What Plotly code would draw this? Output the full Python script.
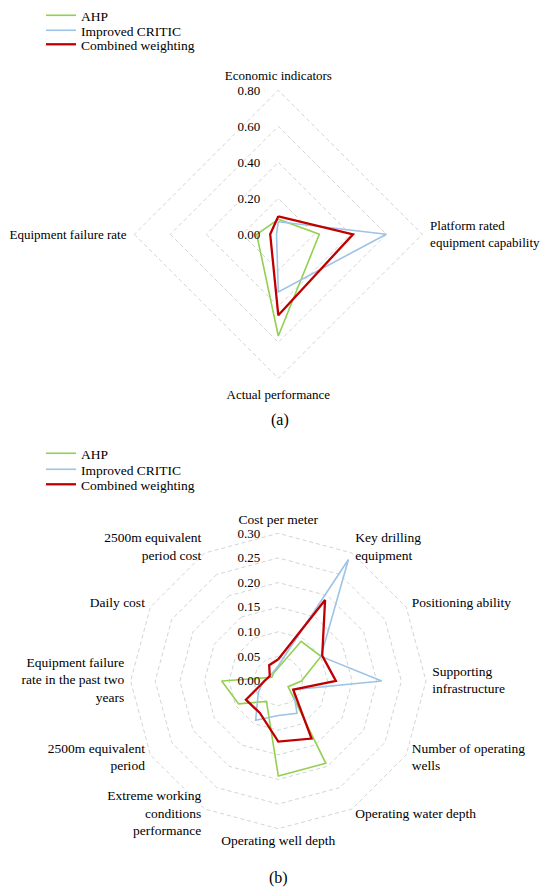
import plotly.graph_objects as go

# (a) first-level indicators
cats_a = ["Economic indicators", "Platform rated<br>equipment capability",
          "Actual performance", "Equipment failure rate"]
ahp_a = [0.083, 0.228, 0.565, 0.12]
critic_a = [0.07, 0.60, 0.32, 0.01]
comb_a = [0.10, 0.415, 0.45, 0.045]

# (b) second-level indicators
cats_b = ["Cost per meter", "Key drilling<br>equipment", "Positioning ability",
          "Supporting<br>infrastructure", "Number of operating<br>wells",
          "Operating water depth", "Operating well depth",
          "Extreme working<br>conditions<br>performance",
          "2500m equivalent<br>period",
          "Equipment failure<br>rate in the past two<br>years",
          "Daily cost", "2500m equivalent<br>period cost"]
ahp_b = [0.027, 0.093, 0.10, 0.047, 0.023, 0.193, 0.193, 0.048, 0.093, 0.115, 0.015, 0.019]
critic_b = [0.031, 0.285, 0.10, 0.21, 0.035, 0.076, 0.07, 0.092, 0.047, 0.03, 0.02, 0.021]
comb_b = [0.044, 0.19, 0.103, 0.117, 0.035, 0.135, 0.123, 0.075, 0.076, 0.028, 0.02, 0.037]

ticks_a = [0, 0.2, 0.4, 0.6, 0.8]
ticks_b = [0, 0.05, 0.1, 0.15, 0.2, 0.25, 0.3]

names = ["AHP", "Improved CRITIC", "Combined weighting"]
colors = ["#92D050", "#9DC3E6", "#C00000"]
widths = [1.6, 1.6, 2.3]

font = "Liberation Serif"
fs = 13.5

# page body has an 8px margin, so the figure is 8px smaller than the window
W, H = 542, 887


def closed(v):
    return list(v) + [v[0]]


def dom(cx, cy, r):
    # polar domain from centre/radius in page pixels
    cx, cy = cx - 8, cy - 8
    return dict(x=[(cx - r) / W, (cx + r) / W], y=[(H - cy - r) / H, (H - cy + r) / H])


fig = go.Figure()
# one small legend per entry so the rows can sit as tight as in the original
leg_ids = ["legend", "legend2", "legend3", "legend4", "legend5", "legend6"]
for k, (name, vals, col, w) in enumerate(zip(names, [ahp_a, critic_a, comb_a], colors, widths)):
    fig.add_trace(go.Scatterpolar(r=closed(vals), theta=closed(cats_a), mode="lines",
                                  name=name, line=dict(color=col, width=w),
                                  subplot="polar", legend=leg_ids[k]))
for k, (name, vals, col, w) in enumerate(zip(names, [ahp_b, critic_b, comb_b], colors, widths)):
    fig.add_trace(go.Scatterpolar(r=closed(vals), theta=closed(cats_b), mode="lines",
                                  name=name, line=dict(color=col, width=w),
                                  subplot="polar2", legend=leg_ids[3 + k]))

# category labels of (b) placed like Excel does (just outside the outer ring)
n = len(cats_b)
label_pos = []
for i in range(n):
    if i == 0:
        label_pos.append("top center")
    elif i * 2 == n:
        label_pos.append("bottom center")
    elif i < n / 2:
        label_pos.append("middle right")
    else:
        label_pos.append("middle left")
label_r = ticks_b[-1] * 1.043
fig.add_trace(go.Scatterpolar(r=[label_r] * n, theta=cats_b, mode="text",
                              text=cats_b, textposition=label_pos,
                              textfont=dict(family=font, size=fs, color="black"),
                              cliponaxis=False, showlegend=False, hoverinfo="skip",
                              subplot="polar2"))

radial = dict(showline=False, ticks="outside", ticklen=13, tickcolor="rgba(0,0,0,0)",
              angle=90, tickangle=90, side="counterclockwise",
              gridcolor="#d4d4d4", griddash="4px,3px", gridwidth=1,
              tickformat=".2f", tickfont=dict(family=font, size=13, color="black"))
angular = dict(direction="clockwise", rotation=90, showgrid=False, showline=False,
               ticks="outside", ticklen=3, tickcolor="rgba(0,0,0,0)",
               tickfont=dict(family=font, size=13, color="black"))

# range a bit past the last tick so the outer dashed ring is drawn
ext_a = 1.012
ext_b = 1.05

# legend rows, page y of each entry's centre
leg_rows = [14, 29, 43, 452, 468, 483]
legends = {}
for lid, yc in zip(leg_ids, leg_rows):
    legends[lid] = dict(x=33 / W, y=1 - (yc - 22) / H, xanchor="left", yanchor="top",
                        itemwidth=30, font=dict(family=font, size=fs),
                        bgcolor="rgba(0,0,0,0)")

fig.update_layout(
    width=W, height=H,
    margin=dict(l=0, r=0, t=0, b=0, autoexpand=False),
    paper_bgcolor="white",
    font=dict(family=font, size=fs, color="black"),
    polar=dict(domain=dom(278.3, 234.3, 144 * ext_a), gridshape="linear", bgcolor="white",
               radialaxis=dict(radial, range=[0, 0.8 * ext_a], tickvals=ticks_a),
               angularaxis=angular),
    polar2=dict(domain=dom(278.3, 681, 147.7 * ext_b), gridshape="linear",
                bgcolor="rgba(0,0,0,0)",
                radialaxis=dict(radial, range=[0, 0.3 * ext_b], tickvals=ticks_b),
                angularaxis=dict(angular, showticklabels=False, ticks="")),
    annotations=[
        dict(text="(a)", x=272 / W, y=1 - 412 / H, xref="paper", yref="paper",
             yanchor="middle", showarrow=False, font=dict(family=font, size=16)),
        dict(text="(b)", x=270 / W, y=1 - 870 / H, xref="paper", yref="paper",
             yanchor="middle", showarrow=False, font=dict(family=font, size=16)),
    ],
    **legends,
)

fig.write_html("out.html")
